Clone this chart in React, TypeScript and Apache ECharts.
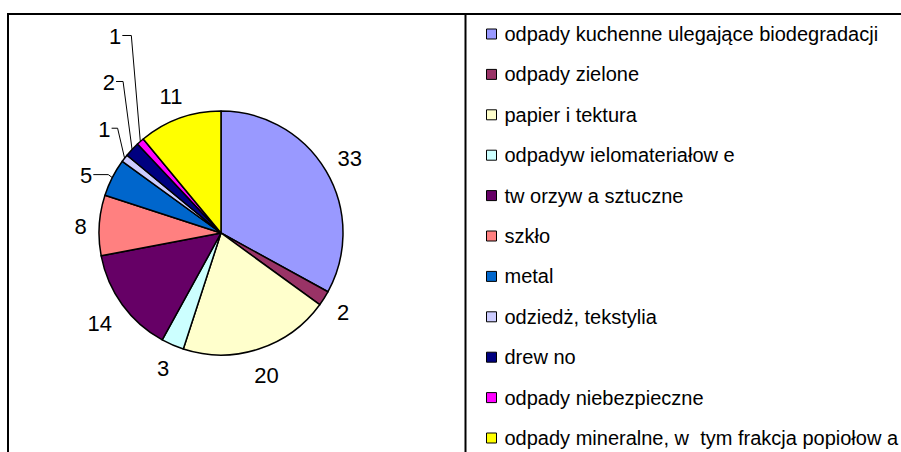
import { useEffect, useRef } from "react";
import * as echarts from "echarts";

const categories = [
  "odpady kuchenne ulegające biodegradacji",
  "odpady zielone",
  "papier i tektura",
  "odpadyw ielomateriałow e",
  "tw orzyw a sztuczne",
  "szkło",
  "metal",
  "odziedż, tekstylia",
  "drew no",
  "odpady niebezpieczne",
  "odpady mineralne, w  tym frakcja popiołow a",
];
const values = [33, 2, 20, 3, 14, 8, 5, 1, 2, 1, 11];
const colors = [
  "#9999FF",
  "#993366",
  "#FFFFCC",
  "#CCFFFF",
  "#660066",
  "#FF8080",
  "#0066CC",
  "#CCCCFF",
  "#000080",
  "#FF00FF",
  "#FFFF00",
];

const CX = 221;
const CY = 233;
const R = 122;
const LABEL_GAP = 12;
const LABEL_SIZE = 22;
const FONT = "'Liberation Sans', Arial, sans-serif";

// leader-line labels: lift above slice edge, bend offset, horizontal run
const leaders: Record<number, { lift: number; bend: number; run: number }> = {
  6: { lift: 3, bend: 4, run: 15 },
  7: { lift: 30, bend: 7, run: 6 },
  8: { lift: 68, bend: 9, run: 7 },
  9: { lift: 106, bend: 9, run: 9 },
};

const total = values.reduce((a, b) => a + b, 0);
function midDir(i: number): [number, number] {
  const before = values.slice(0, i).reduce((a, b) => a + b, 0);
  const frac = (before + values[i] / 2) / total;
  const a = frac * 2 * Math.PI;
  return [Math.sin(a), -Math.cos(a)];
}

export default function App() {
  const ref = useRef<HTMLDivElement>(null);
  useEffect(() => {
    if (!ref.current) return;
    const chart = echarts.init(ref.current, null, { renderer: "svg" });
    chart.setOption({
      animation: false,
      backgroundColor: "#ffffff",
      legend: {
        orient: "vertical",
        left: 486,
        top: 24,
        padding: 0,
        itemWidth: 10,
        itemHeight: 10,
        itemGap: 20.4,
        icon: "rect",
        selectedMode: false,
        itemStyle: { borderColor: "#000", borderWidth: 1 },
        textStyle: {
          fontSize: 20,
          color: "#000",
          fontFamily: FONT,
          padding: [0, 0, 0, 3],
        },
        data: categories,
      },
      graphic: [
        { type: "line", shape: { x1: 7, y1: 14, x2: 901, y2: 14 }, style: { stroke: "#000", lineWidth: 2 } },
        { type: "line", shape: { x1: 8, y1: 14, x2: 8, y2: 452 }, style: { stroke: "#000", lineWidth: 2 } },
        { type: "line", shape: { x1: 465.5, y1: 14, x2: 465.5, y2: 452 }, style: { stroke: "#000", lineWidth: 2 } },
      ],
      series: [
        {
          type: "pie",
          center: [CX, CY],
          radius: R,
          startAngle: 90,
          clockwise: true,
          avoidLabelOverlap: false,
          itemStyle: { borderColor: "#000", borderWidth: 1.5 },
          label: {
            show: true,
            position: "outside",
            formatter: "{c}",
            fontSize: LABEL_SIZE,
            color: "#000",
            fontFamily: FONT,
          },
          labelLine: { show: false, lineStyle: { color: "#000", width: 1 } },
          labelLayout: (p: any) => {
            const i = p.dataIndex;
            const [dx, dy] = midDir(i);
            const ex = CX + R * dx;
            const ey = CY + R * dy;
            const ld = leaders[i];
            if (ld) {
              const y = ey - ld.lift;
              const bx = ex - ld.bend;
              const endX = bx - ld.run;
              return {
                x: endX - 1,
                y: y + 1,
                align: "right",
                verticalAlign: "middle",
                labelLinePoints: [
                  [ex, ey],
                  [bx, y],
                  [endX, y],
                ],
              };
            }
            const hw = (String(values[i]).length * 0.556 * LABEL_SIZE) / 2;
            const hh = 10;
            const d = R + LABEL_GAP + Math.abs(dx) * hw + Math.abs(dy) * hh;
            return { x: CX + dx * d, y: CY + dy * d + 2, align: "center", verticalAlign: "middle" };
          },
          data: categories.map((name, i) => ({
            name,
            value: values[i],
            itemStyle: { color: colors[i] },
            labelLine: { show: !!leaders[i] },
          })),
        },
      ],
    });
    return () => chart.dispose();
  }, []);
  return (
    <div
      ref={ref}
      style={{ position: "absolute", left: 0, top: 0, width: 901, height: 452 }}
    />
  );
}
